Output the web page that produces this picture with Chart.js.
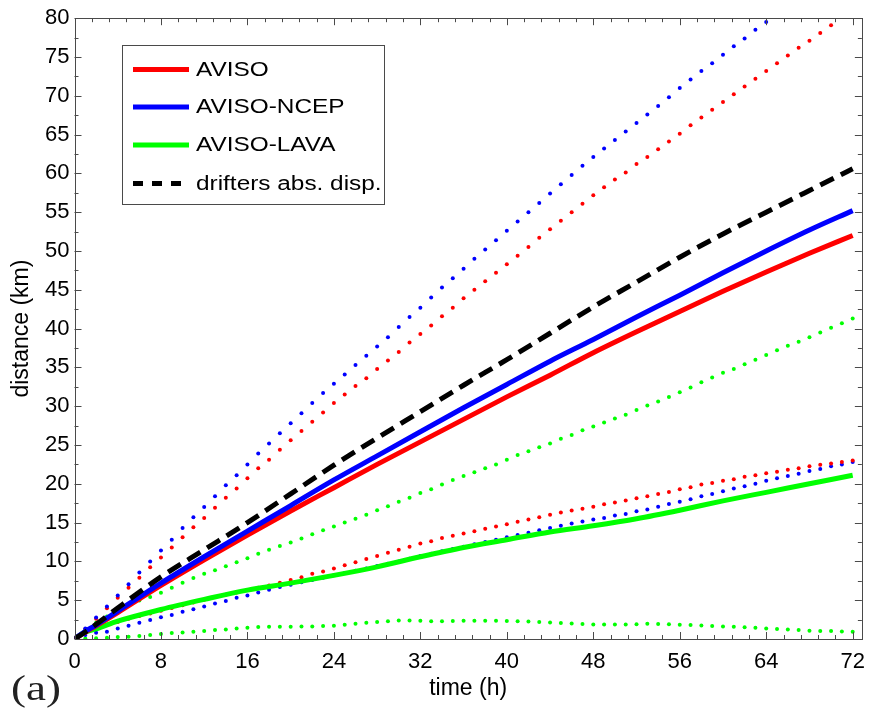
<!DOCTYPE html>
<html><head><meta charset="utf-8">
<script src="https://cdn.jsdelivr.net/npm/chart.js@4.4.0/dist/chart.umd.min.js"></script>
<style>html,body{margin:0;padding:0;background:#fff;}canvas{display:block;}</style>
</head><body>
<canvas id="c" width="875" height="709"></canvas>
<script>
// ---------- data ----------
const hours = [0,1,2,3,4,5,6,7,8,9,10,11,12,13,14,15,16,17,18,19,20,21,22,23,24,25,26,27,28,29,30,31,32,33,34,35,36,37,38,39,40,41,42,43,44,45,46,47,48,49,50,51,52,53,54,55,56,57,58,59,60,61,62,63,64,65,66,67,68,69,70,71,72];
const lineHours = [0,1,2,4,8,12,16,20,24,28,32,36,40,44,48,52,56,60,64,68,72];

const aviso      = [0,0.9,1.7,3.4,6.9,10.2,13.4,16.5,19.5,22.5,25.4,28.3,31.2,34.0,36.9,39.6,42.2,44.8,47.3,49.7,52.0];
const avisoNcep  = [0,1.0,1.8,3.6,7.2,10.6,13.9,17.2,20.5,23.6,26.7,29.8,32.8,35.8,38.6,41.5,44.3,47.2,50.0,52.7,55.2];
const avisoLava  = [0,0.9,1.3,2.3,3.8,5.1,6.3,7.2,8.2,9.3,10.6,11.8,12.8,13.8,14.6,15.5,16.6,17.8,18.9,20.0,21.1];
const drifters   = [0,0.9,1.9,4.0,8.0,11.5,15.0,18.7,22.4,25.9,29.3,32.7,36.0,39.4,42.8,46.0,49.2,52.2,55.0,57.8,60.6];

const avisoUpper = [0,1.3,2.6,3.95,5.3,6.6,7.9,9.25,10.5,11.8,13.1,14.4,15.6,16.9,18.2,19.4,20.7,22.0,23.1,24.4,25.6,26.8,28.0,29.2,30.4,31.5,32.6,33.6,34.8,35.9,37.0,38.2,39.3,40.4,41.6,42.7,43.9,45.0,46.1,47.2,48.3,49.4,50.5,51.7,52.8,53.9,55.0,56.1,57.2,58.2,59.2,60.1,61.2,62.1,63.1,64.1,65.1,66.2,67.2,68.2,69.2,70.2,71.2,72.2,73.2,74.2,75.2,76.2,77.1,78.1,79.1,null,null];
const avisoLower = [0,0.8,1.3,1.8,2.2,2.6,2.95,3.3,3.65,4.0,4.35,4.7,5.05,5.4,5.7,6.0,6.3,6.6,6.9,7.25,7.6,7.97,8.4,8.7,9.1,9.5,9.9,10.3,10.7,11.1,11.5,11.9,12.3,12.6,13.0,13.3,13.6,13.9,14.2,14.5,14.8,15.1,15.4,15.7,16.0,16.3,16.55,16.8,17.05,17.35,17.6,17.85,18.15,18.4,18.7,18.95,19.3,19.55,19.9,20.1,20.4,20.6,20.9,21.1,21.35,21.55,21.8,22.0,22.25,22.45,22.6,22.8,23.0];
const ncepUpper  = [0,1.36,2.77,4.2,5.6,7.05,8.57,10.0,11.4,12.8,14.3,15.7,17.0,18.4,19.8,21.1,22.5,23.9,25.2,26.5,27.8,29.1,30.4,31.7,32.9,34.1,35.3,36.5,37.7,38.9,40.2,41.5,42.7,44.0,45.3,46.5,47.7,49.0,50.2,51.4,52.6,53.8,55.0,56.2,57.4,58.6,59.8,61.0,62.1,63.2,64.3,65.4,66.5,67.6,68.7,69.8,71.0,72.1,73.2,74.2,75.3,76.4,77.4,78.5,79.5,null,null,null,null,null,null,null,null];
const ncepLower  = [0,0.5,0.8,0.94,1.36,1.7,2.1,2.45,2.8,3.1,3.5,3.84,4.2,4.56,4.9,5.3,5.6,6.0,6.35,6.7,7.0,7.3,7.6,7.9,8.2,8.5,8.8,9.1,9.4,9.7,10.0,10.35,10.7,11.0,11.3,11.6,11.9,12.2,12.5,12.8,13.1,13.4,13.7,14.0,14.3,14.6,14.9,15.15,15.4,15.6,15.9,16.1,16.45,16.7,17.05,17.4,17.7,18.0,18.4,18.7,19.05,19.4,19.7,20.0,20.4,20.7,21.0,21.3,21.65,21.9,22.25,22.5,22.8];
const lavaUpper  = [0,1.2,2.1,2.9,3.7,4.4,4.95,5.4,5.97,6.6,7.25,7.85,8.4,8.86,9.37,9.9,10.4,11.0,11.5,12.0,12.45,12.95,13.5,14.0,14.5,15.0,15.5,16.0,16.6,17.1,17.7,18.2,18.8,19.3,19.9,20.5,21.0,21.5,22.0,22.5,23.1,23.7,24.2,24.7,25.2,25.8,26.3,26.9,27.4,27.9,28.4,28.9,29.5,30.1,30.6,31.2,31.8,32.4,33.1,33.7,34.3,34.8,35.4,36.0,36.6,37.2,37.8,38.3,38.9,39.5,40.1,40.7,41.3];
const lavaLower  = [0,0.05,0.1,0.17,0.25,0.3,0.38,0.5,0.64,0.77,0.85,0.94,1.02,1.15,1.24,1.36,1.45,1.55,1.58,1.58,1.58,1.62,1.62,1.66,1.72,1.83,1.95,2.08,2.2,2.3,2.38,2.4,2.36,2.3,2.3,2.33,2.35,2.35,2.34,2.34,2.33,2.3,2.25,2.2,2.12,2.05,2.0,1.93,1.88,1.87,1.87,1.88,1.9,1.95,1.93,1.9,1.83,1.79,1.73,1.66,1.62,1.58,1.5,1.45,1.36,1.28,1.24,1.15,1.05,1.02,1.02,0.98,0.94];

const xTickLabels = [0,8,16,24,32,40,48,56,64,72];
const yTickLabels = [0,5,10,15,20,25,30,35,40,45,50,55,60,65,70,75,80];
const seriesNames = ['AVISO','AVISO-NCEP','AVISO-LAVA','drifters abs. disp.'];

// ---------- styling ----------
const RED='#ff0000', BLUE='#0000ff', GREEN='#00ff00', BLACK='#000000', AXIS='#4a4a4a';
const X_MAX = 72.85, Y_MAX = 80;
const FONT = "'Liberation Sans', Arial, sans-serif";

const pts = (xs, ys) => xs.map((x,i)=>({x, y: ys[i]}));

function solid(label, ys, color, order, dash){
  return {label, data: pts(lineHours, ys), borderColor: color, backgroundColor: color,
    borderWidth: 5, pointRadius: 0, cubicInterpolationMode:'monotone',
    borderDash: dash || [], borderCapStyle: 'butt', order, fill:false, legendLine:true};
}
function dotted(ys, color, order){
  return {label:'', data: pts(hours, ys), showLine:false, pointRadius:2, pointBorderWidth:0,
    pointBackgroundColor: color, backgroundColor: color, borderColor: color, order};
}

const datasets = [
  solid(seriesNames[0], aviso, RED, 2),
  solid(seriesNames[1], avisoNcep, BLUE, 1),
  solid(seriesNames[2], avisoLava, GREEN, 3),
  solid(seriesNames[3], drifters, BLACK, 0, [15,8]),
  dotted(ncepUpper, BLUE, 5), dotted(avisoUpper, RED, 5),
  dotted(lavaUpper, GREEN, 5),
  dotted(avisoLower, RED, 4), dotted(ncepLower, BLUE, 4),
  dotted(lavaLower, GREEN, 4)
];

// frame + inward ticks drawn through the scales
const framePlugin = {
  id:'frame',
  afterDatasetsDraw(chart){
    const {ctx, chartArea:a, scales:{x,y}} = chart;
    ctx.save();
    ctx.strokeStyle = AXIS; ctx.lineWidth = 1;
    ctx.beginPath();
    for (let k=0; k<=45; k++){
      const v = k*1.6; if (v > X_MAX) break;
      const major = xTickLabels.some(t=>Math.abs(t-v)<1e-6);
      const len = major ? 7 : 4;
      const px = Math.round(x.getPixelForValue(v)) + 0.5;
      ctx.moveTo(px, a.bottom); ctx.lineTo(px, a.bottom - len);
      ctx.moveTo(px, a.top); ctx.lineTo(px, a.top + len);
    }
    for (let k=0; k<=32; k++){
      const v = k*2.5;
      const major = yTickLabels.includes(v);
      const len = major ? 7 : 4;
      const py = Math.round(y.getPixelForValue(v)) + 0.5;
      ctx.moveTo(a.left, py); ctx.lineTo(a.left + len, py);
      ctx.moveTo(a.right, py); ctx.lineTo(a.right - len, py);
    }
    ctx.stroke();
    ctx.strokeRect(Math.round(a.left)+0.5, Math.round(a.top)+0.5, Math.round(a.right)-Math.round(a.left), Math.round(a.bottom)-Math.round(a.top));
    ctx.restore();
  },
  afterDraw(chart){
    const {ctx} = chart;
    ctx.save();
    // legend box
    const bx=122.5, by=45.5, bw=262, bh=159;
    ctx.fillStyle='#fff'; ctx.fillRect(bx,by,bw,bh);
    ctx.strokeStyle=AXIS; ctx.lineWidth=1; ctx.strokeRect(bx,by,bw,bh);
    const rows=[69.5,107,145,183.5];
    chart.data.datasets.filter(d=>d.legendLine).forEach((d,i)=>{
      const yy=rows[i];
      ctx.beginPath(); ctx.strokeStyle=d.borderColor; ctx.lineWidth=5; ctx.lineCap='butt';
      ctx.setLineDash(d.borderDash.length? [10,9] : []);
      ctx.moveTo(133,yy); ctx.lineTo(189,yy); ctx.stroke();
      ctx.setLineDash([]);
      ctx.save();
      ctx.translate(196, yy); ctx.scale(1.25,1);
      ctx.fillStyle='#000'; ctx.font="19.5px "+FONT; ctx.textBaseline='middle'; ctx.textAlign='left';
      ctx.fillText(d.label,0,1);
      ctx.restore();
    });
    // panel tag
    ctx.save();
    ctx.translate(11, 700); ctx.scale(1.25,1);
    ctx.fillStyle='#222'; ctx.font="36px 'Liberation Serif', 'Times New Roman', serif";
    ctx.textBaseline='alphabetic'; ctx.textAlign='left';
    ctx.fillText('(a)', 0, 0);
    ctx.restore();
    ctx.restore();
  }
};

new Chart(document.getElementById('c'), {
  type:'line',
  data:{datasets},
  plugins:[framePlugin],
  options:{
    responsive:false, animation:false, devicePixelRatio:1,
    layout:{padding:{top:13.3, right:7, left:0, bottom:0}},
    plugins:{legend:{display:false}, tooltip:{enabled:false}},
    scales:{
      x:{type:'linear', min:0, max:X_MAX,
        grid:{display:false, drawTicks:false}, border:{display:false},
        ticks:{stepSize:8, includeBounds:false, color:'#000', padding:10, maxRotation:0,
          font:{family:FONT, size:22}},
        title:{display:true, text:'time (h)', color:'#000', font:{family:FONT, size:23}, padding:{top:0,bottom:7}},
        afterFit(s){ s.height = 70; }
      },
      y:{type:'linear', min:0, max:Y_MAX,
        grid:{display:false, drawTicks:false}, border:{display:false},
        ticks:{stepSize:5, color:'#000', padding:5, font:{family:FONT, size:22}},
        title:{display:true, text:'distance (km)', color:'#000', font:{family:FONT, size:23}, padding:{top:8,bottom:0}},
        afterFit(s){ s.width = 74.5; }
      }
    }
  }
});
</script>
</body></html>
